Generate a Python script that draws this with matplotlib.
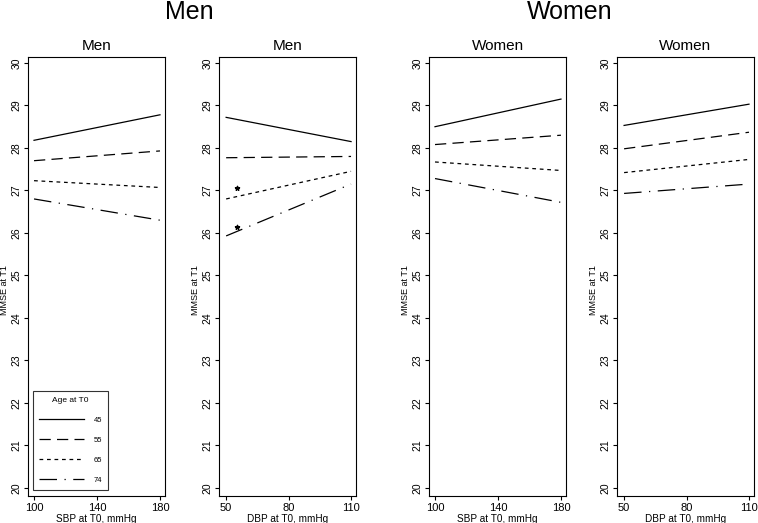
import matplotlib
matplotlib.use("Agg")
import matplotlib.pyplot as plt

plt.rcParams['font.family'] = ['Liberation Sans', 'DejaVu Sans']

ages = ['45', '55', '65', '74']
sbp_x = [100, 180]
dbp_x = [50, 110]

men_sbp = [[28.18, 28.78], [27.70, 27.93], [27.23, 27.07], [26.80, 26.30]]
men_dbp = [[28.72, 28.15], [27.77, 27.80], [26.80, 27.45], [25.93, 27.15]]
women_sbp = [[28.50, 29.15], [28.08, 28.30], [27.67, 27.47], [27.28, 26.72]]
women_dbp = [[28.53, 29.03], [27.98, 28.37], [27.42, 27.73], [26.93, 27.15]]

star_x = [55, 55]
star_y = [27.06, 26.14]

styles = ['-', (0, (9, 5)), (0, (3, 3)), (0, (14, 6, 1, 6))]

panels = [
    ("Men", sbp_x, men_sbp, "SBP at T0, mmHg", [100, 140, 180], (96.2, 183.2)),
    ("Men", dbp_x, men_dbp, "DBP at T0, mmHg", [50, 80, 110], (46.6, 112.4)),
    ("Women", sbp_x, women_sbp, "SBP at T0, mmHg", [100, 140, 180], (96.2, 183.2)),
    ("Women", dbp_x, women_dbp, "DBP at T0, mmHg", [50, 80, 110], (46.6, 112.4)),
]
lefts = [0.037, 0.289, 0.566, 0.814]

fig = plt.figure(figsize=(7.58, 5.23), dpi=100)
axes = []
for left, (title, xs, series, xlabel, xticks, xlim) in zip(lefts, panels):
    ax = fig.add_axes([left, 0.0516, 0.1807, 0.8394])
    for vals, ls, lab in zip(series, styles, ages):
        ax.plot(xs, vals, color='black', lw=0.9, linestyle=ls, label=lab)
    ax.set_xlim(*xlim)
    ax.set_ylim(19.81, 30.14)
    ax.set_xticks(xticks)
    ax.set_yticks(range(20, 31))
    ax.set_yticklabels([str(v) for v in range(20, 31)], rotation=90, va='center')
    ax.tick_params(labelsize=8, length=3, width=0.8, pad=2)
    ax.tick_params(axis='y', labelsize=7.5, pad=1.5)
    ax.set_xlabel(xlabel, fontsize=7.2, labelpad=0.5)
    ax.set_ylabel("MMSE at T1", fontsize=6.5)
    ax.yaxis.set_label_coords(-0.14, 0.47)
    ax.set_title(title, fontsize=11, pad=5)
    for s in ax.spines.values():
        s.set_linewidth(0.8)
    axes.append(ax)

axes[1].scatter(star_x, star_y, marker='*', s=10, color='black', zorder=3)

leg = axes[0].legend(title="Age at T0", loc='lower left', fontsize=5.5,
                     title_fontsize=6, handlelength=5.9, labelspacing=1.65,
                     borderpad=0.8, handletextpad=1.2, frameon=True,
                     fancybox=False, edgecolor='black',
                     bbox_to_anchor=(0.01, 0.005))
leg.get_frame().set_linewidth(0.8)

fig.text(0.25, 0.978, "Men", fontsize=18, ha='center', va='center')
fig.text(0.752, 0.978, "Women", fontsize=18, ha='center', va='center')

fig.savefig("out.png", dpi=100)
